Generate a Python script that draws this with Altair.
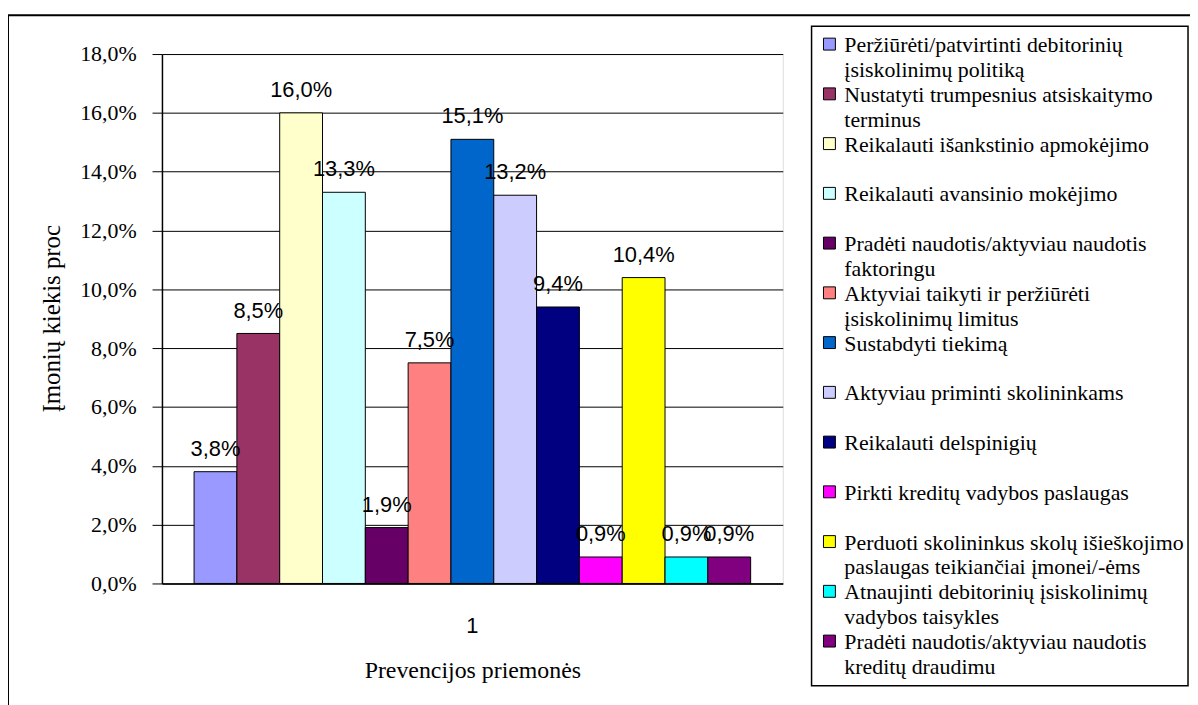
import altair as alt
import pandas as pd

# ---- data ----
category = ["1"]
series_names = [
    "Peržiūrėti/patvirtinti debitorinių įsiskolinimų politiką",
    "Nustatyti trumpesnius atsiskaitymo terminus",
    "Reikalauti išankstinio apmokėjimo",
    "Reikalauti avansinio mokėjimo",
    "Pradėti naudotis/aktyviau naudotis faktoringu",
    "Aktyviai taikyti ir peržiūrėti įsiskolinimų limitus",
    "Sustabdyti tiekimą",
    "Aktyviau priminti skolininkams",
    "Reikalauti delspinigių",
    "Pirkti kreditų vadybos paslaugas",
    "Perduoti skolininkus skolų išieškojimo paslaugas teikiančiai įmonei/-ėms",
    "Atnaujinti debitorinių įsiskolinimų vadybos taisykles",
    "Pradėti naudotis/aktyviau naudotis kreditų draudimu",
]
legend_lines = [
    "Peržiūrėti/patvirtinti debitorinių\nįsiskolinimų politiką",
    "Nustatyti trumpesnius atsiskaitymo\nterminus",
    "Reikalauti išankstinio apmokėjimo",
    "Reikalauti avansinio mokėjimo",
    "Pradėti naudotis/aktyviau naudotis\nfaktoringu",
    "Aktyviai taikyti ir peržiūrėti\nįsiskolinimų limitus",
    "Sustabdyti tiekimą",
    "Aktyviau priminti skolininkams",
    "Reikalauti delspinigių",
    "Pirkti kreditų vadybos paslaugas",
    "Perduoti skolininkus skolų išieškojimo\npaslaugas teikiančiai įmonei/-ėms",
    "Atnaujinti debitorinių įsiskolinimų\nvadybos taisykles",
    "Pradėti naudotis/aktyviau naudotis\nkreditų draudimu",
]
values_pct = [3.8, 8.5, 16.0, 13.3, 1.9, 7.5, 15.1, 13.2, 9.4, 0.9, 10.4, 0.9, 0.9]
colors = [
    "#9999FF", "#993366", "#FFFFCC", "#CCFFFF", "#660066", "#FF8080", "#0066CC",
    "#CCCCFF", "#000080", "#FF00FF", "#FFFF00", "#00FFFF", "#800080",
]
y_ticks = [0, 2, 4, 6, 8, 10, 12, 14, 16, 18]

df = pd.DataFrame({
    "cat": category * len(series_names),
    "name": series_names,
    "legend": legend_lines,
    "value": values_pct,
    "label": [f"{v:.1f}%".replace(".", ",") for v in values_pct],
})

SERIF = "Liberation Serif"
SANS = "Liberation Sans"

color = alt.Color("name:N", scale=alt.Scale(domain=series_names, range=colors), legend=None)
xenc = alt.X(
    "cat:N",
    scale=alt.Scale(paddingInner=0, paddingOuter=0),
    axis=alt.Axis(
        title="Prevencijos priemonės", labelAngle=0, ticks=False,
        labelFont=SANS, labelFontSize=22, labelColor="black", labelPadding=32,
        titleFont=SERIF, titleFontSize=24, titleFontWeight="normal", titleColor="black",
        titleY=95, titleBaseline="alphabetic",
        domainColor="black", domainWidth=1.5, grid=False,
    ),
)
xoff = alt.XOffset("name:N", sort=series_names,
                   scale=alt.Scale(paddingInner=0, paddingOuter=0.75))
yscale = alt.Scale(domain=[0, 18], nice=False)
yaxis = alt.Axis(
    orient="left",
    values=y_ticks,
    labelExpr="replace(format(datum.value, '.1f'), '.', ',') + '%'",
    labelFont=SERIF, labelFontSize=22, labelColor="black", labelPadding=16,
    tickSize=10, tickColor="black", tickWidth=1,
    domainColor="black", domainWidth=1.5,
    grid=True, gridColor="black", gridWidth=1, gridOpacity=1,
    title="Įmonių kiekis proc", titleFont=SERIF, titleFontSize=25,
    titleFontWeight="normal", titleColor="black",
    titleX=-111, titleY=266, titleAngle=-90, titleAlign="center",
    titleBaseline="middle",
)

bars = alt.Chart(df).mark_bar(stroke="black", strokeWidth=1).encode(
    x=xenc,
    xOffset=xoff,
    y=alt.Y("value:Q", scale=yscale, axis=yaxis),
    color=color,
)

labels = alt.Chart(df).mark_text(
    font=SANS, fontSize=22, baseline="alphabetic", align="center", dy=-16, color="black"
).encode(
    x=xenc,
    xOffset=xoff,
    y=alt.Y("value:Q", scale=yscale, axis=yaxis),
    text="label:N",
)

main = alt.layer(bars, labels)

one = pd.DataFrame({"k": [0]})
frame = alt.Chart(one).mark_rect(fillOpacity=0, stroke="black", strokeWidth=2).encode(
    x=alt.value(-155), x2=alt.value(1100), y=alt.value(-39), y2=alt.value(700)
)
legend_box = alt.Chart(one).mark_rect(fill="white", stroke="black", strokeWidth=1.5).encode(
    x=alt.value(654), x2=alt.value(1033), y=alt.value(-28), y2=alt.value(636)
)

leg_y = alt.Y("name:N", sort=series_names,
              scale=alt.Scale(type="point", range=[-10, 591], padding=0), axis=None)
leg_sym = alt.Chart(df).mark_square(size=144, stroke="black", strokeWidth=1, opacity=1).encode(
    x=alt.value(672), y=leg_y, color=color
)
leg_txt = alt.Chart(df).mark_text(
    font=SERIF, fontSize=22, align="left", baseline="alphabetic", dy=8,
    lineBreak="\n", lineHeight=25, color="black"
).encode(
    x=alt.value(687), y=leg_y, text="legend:N"
)

legend = alt.layer(leg_sym, leg_txt)

chart = alt.layer(main, frame, legend_box, legend).resolve_scale(y="independent").properties(
    width=625, height=533,
    autosize=alt.AutoSizeParams(type="none"),
    padding={"left": 155, "top": 44, "right": 410, "bottom": 120},
).configure_view(strokeWidth=0).configure(background="white")

chart.save("out.html", embed_options={"renderer": "svg", "actions": False})
